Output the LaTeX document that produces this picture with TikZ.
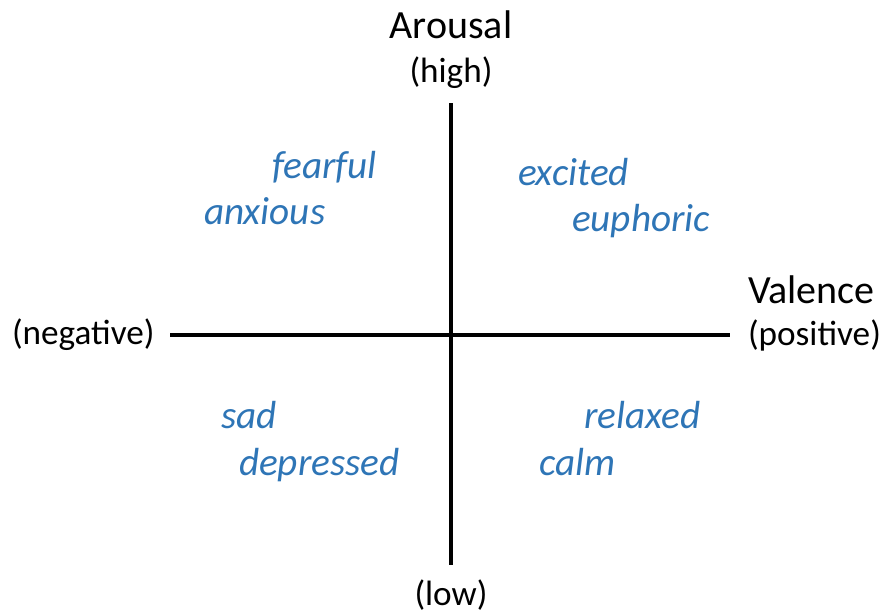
\documentclass[tikz,border=0pt]{standalone}
\usepackage{fontspec}
\setmainfont{Carlito}
\definecolor{moodblue}{RGB}{46,117,182}

\begin{document}
\begin{tikzpicture}[x=0.5pt, y=-0.5pt, line width=2pt,
    axistitle/.style={font=\fontsize{20}{22}\selectfont, inner sep=0pt},
    axislabel/.style={font=\fontsize{17.6}{20}\selectfont, inner sep=0pt},
    mood/.style={font=\fontsize{19.6}{22}\selectfont\itshape, text=moodblue, inner sep=0pt, anchor=base west}]

    % Vùng vẽ
    \useasboundingbox (0,0) rectangle (881,615);

    % Các đầu mút của trục
    \coordinate (top) at (451,103);
    \coordinate (bottom) at (451,565);
    \coordinate (left) at (170,335);
    \coordinate (right) at (730,335);

    % Vẽ các trục
    \draw (top) -- (bottom);
    \draw (left) -- (right);

    % Nhãn trục dọc
    \node[axistitle] (arousal) at (451,25) {Arousal};
    \node[axislabel] (high) at (451,73) {(high)};
    \node[axislabel] (low) at (451,595) {(low)};

    % Nhãn trục ngang
    \node[axislabel, anchor=west] (negative) at (10,335) {(negative)};
    \node[axistitle, anchor=west] (valence) at (746,290) {Valence};
    \node[axislabel, anchor=west] (positive) at (746,335) {(positive)};

    % Các cảm xúc
    \node[mood] (fearful) at (270,178) {fearful};
    \node[mood] (anxious) at (202,224) {anxious};
    \node[mood] (excited) at (516,185) {excited};
    \node[mood] (euphoric) at (570,231) {euphoric};
    \node[mood] (sad) at (219,428) {sad};
    \node[mood] (depressed) at (237,475) {depressed};
    \node[mood] (relaxed) at (582,428) {relaxed};
    \node[mood] (calm) at (537,475) {calm};

\end{tikzpicture}
\end{document}
